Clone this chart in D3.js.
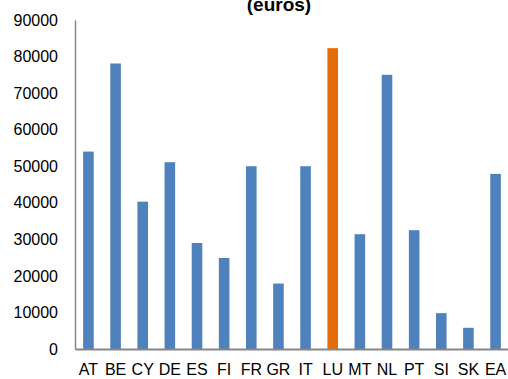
<!DOCTYPE html>
<html>
<head>
<meta charset="utf-8">
<script src="https://cdn.jsdelivr.net/npm/d3@7"></script>
<style>
  body { margin: 0; background: #fff; }
  text { font-family: "Liberation Sans", Arial, sans-serif; }
</style>
</head>
<body>
<div id="chart"></div>
<script>
var countries = ["AT", "BE", "CY", "DE", "ES", "FI", "FR", "GR", "IT", "LU", "MT", "NL", "PT", "SI", "SK", "EA"];
var values = [54000, 78100, 40300, 51100, 29000, 24900, 50000, 17900, 50000, 82300, 31400, 75000, 32500, 9800, 5800, 47900];
var yTicks = [0, 10000, 20000, 30000, 40000, 50000, 60000, 70000, 80000, 90000];
var highlight = "LU";

function init() {
    var w = 508;
    var h = 379;

    var svg = d3.select("#chart")
        .append("svg")
        .attr("width", w)
        .attr("height", h);

    var scaleX = d3.scaleBand()
        .domain(countries)
        .range([75, 509])
        .paddingInner(0.61)
        .paddingOuter(0.3);

    var scaleY = d3.scaleLinear()
        .domain([0, 90000])
        .range([349, 20]);

    // title (top is cut off in the original)
    svg.append("text")
        .attr("x", 279)
        .attr("y", 11)
        .attr("text-anchor", "middle")
        .attr("font-size", 19)
        .attr("font-weight", "bold")
        .attr("fill", "#000")
        .text("(euros)");

    // bars
    svg.selectAll("rect.bar")
        .data(countries)
        .enter()
        .append("rect")
        .attr("class", "bar")
        .attr("x", function (d) { return scaleX(d); })
        .attr("width", scaleX.bandwidth())
        .attr("y", function (d, i) { return scaleY(values[i]); })
        .attr("height", function (d, i) { return scaleY(0) - scaleY(values[i]); })
        .attr("fill", function (d) {
            return d == highlight ? "#E46C0A" : "#4F81BD";
        });

    // y axis
    var yAxis = svg.append("g")
        .attr("transform", "translate(75,0)")
        .call(d3.axisLeft(scaleY).tickValues(yTicks).tickSize(0).tickPadding(17).tickFormat(d3.format("d")));
    yAxis.select(".domain").attr("stroke", "#868686").attr("stroke-width", 1.5);
    yAxis.selectAll("text").attr("font-size", 16).attr("fill", "#000")
        .attr("font-family", "Liberation Sans, Arial, sans-serif");

    // x axis
    var xAxis = svg.append("g")
        .attr("transform", "translate(0,349)")
        .call(d3.axisBottom(scaleX).tickSize(0).tickPadding(15));
    xAxis.select(".domain").attr("stroke", "#868686").attr("stroke-width", 2);
    xAxis.selectAll("text").attr("font-size", 16).attr("fill", "#000")
        .attr("font-family", "Liberation Sans, Arial, sans-serif");
}

window.onload = init;
</script>
</body>
</html>
